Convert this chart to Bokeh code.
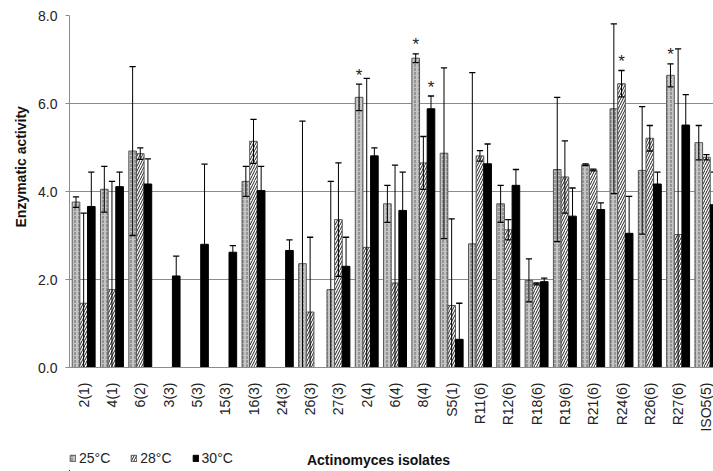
import math
from bokeh.plotting import figure
from bokeh.layouts import column
from bokeh.models import (ColumnDataSource, Range1d, FixedTicker, NumeralTickFormatter,
                          Legend, LegendItem, Label, Title)
from bokeh.core.properties import value
from bokeh.embed import file_html
from bokeh.resources import INLINE

nan = float("nan")

isolates = ["2(1)", "4(1)", "6(2)", "3(3)", "5(3)", "15(3)", "16(3)", "24(3)", "26(3)", "27(3)",
            "2(4)", "6(4)", "8(4)", "S5(1)", "R11(6)", "R12(6)", "R18(6)", "R19(6)", "R21(6)",
            "R24(6)", "R26(6)", "R27(6)", "ISO5(5)"]
series_names = ["25°C", "28°C", "30°C"]

act_25 = [3.76, 4.05, 4.92, nan, nan, nan, 4.23, nan, 2.36, 1.77, 6.14, 3.72, 7.03, 4.87,
          2.81, 3.72, 1.98, 4.50, 4.61, 5.88, 4.48, 6.64, 5.11]
err_25 = [0.12, 0.52, 1.92, nan, nan, nan, 0.34, nan, 3.24, 2.46, 0.30, 0.42, 0.10, 1.94,
          3.89, 0.42, 0.49, 1.64, 0.02, 1.93, 1.45, 0.26, 0.39]
act_28 = [1.46, 1.77, 4.86, nan, nan, nan, 5.14, nan, 1.26, 3.36, 2.73, 1.92, 4.65, 1.41,
          4.81, 3.13, 1.90, 4.33, 4.49, 6.45, 5.21, 3.02, 4.78]
err_28 = [2.05, 2.46, 0.13, nan, nan, nan, 0.50, nan, 1.70, 1.29, 3.84, 2.68, 0.60, 1.97,
          0.12, 0.23, 0.02, 0.82, 0.02, 0.30, 0.29, 4.22, 0.06]
act_30 = [3.66, 4.11, 4.17, 2.08, 2.80, 2.62, 4.02, 2.66, nan, 2.30, 4.81, 3.57, 5.88, 0.64,
          4.63, 4.14, 1.95, 3.44, 3.59, 3.05, 4.17, 5.51, 3.70]
err_30 = [0.78, 0.33, 0.57, 0.45, 1.82, 0.15, 0.55, 0.24, nan, 0.66, 0.18, 0.87, 0.29, 0.82,
          0.45, 0.36, 0.08, 0.64, 0.15, 0.84, 0.27, 0.69, 0.74]

stars = [("2(4)", "25°C"), ("8(4)", "25°C"), ("8(4)", "30°C"), ("R24(6)", "28°C"), ("R27(6)", "25°C")]

y_ticks = [0, 2, 4, 6, 8]
y_title = "Enzymatic activity"
x_title = "Actinomyces  isolates"

FONT = "Liberation Sans"
BAR_W = 0.27
offsets = [-0.27, 0.0, 0.27]
styles = [
    dict(fill_color="#c4c4c4", line_color="#555555", hatch_pattern=":", hatch_color="#666666",
         hatch_scale=4, hatch_weight=1),
    dict(fill_color="#ffffff", line_color="#555555", hatch_pattern="/", hatch_color="#222222",
         hatch_scale=5, hatch_weight=1),
    dict(fill_color="#000000", line_color="#000000"),
]

p = figure(width=713, height=440, output_backend="svg", toolbar_location=None,
           x_range=Range1d(0, 22.75), y_range=Range1d(0, 8),
           min_border_left=69, min_border_right=0, min_border_top=15, min_border_bottom=73)
p.outline_line_color = None
p.background_fill_color = "white"

all_vals = [act_25, act_28, act_30]
all_errs = [err_25, err_28, err_30]
for k, name in enumerate(series_names):
    xs, tops, lo, hi, cl, cr = [], [], [], [], [], []
    for i, v in enumerate(all_vals[k]):
        if math.isnan(v):
            continue
        x = i + 0.5 + offsets[k]
        xs.append(x)
        tops.append(v)
        e = all_errs[k][i]
        lo.append(max(v - e, -1))
        hi.append(v + e)
        cl.append(x - 0.11)
        cr.append(x + 0.11)
    src = ColumnDataSource(dict(x=xs, top=tops, lo=lo, hi=hi, cl=cl, cr=cr))
    p.vbar(x="x", top="top", bottom=0, width=BAR_W, source=src, line_width=1, **styles[k])
    p.segment(x0="x", y0="lo", x1="x", y1="hi", source=src, line_color="black", line_width=1)
    p.segment(x0="cl", y0="hi", x1="cr", y1="hi", source=src, line_color="black", line_width=1.3)
    p.segment(x0="cl", y0="lo", x1="cr", y1="lo", source=src, line_color="black", line_width=1.3)

sx, sy = [], []
for iso, ser in stars:
    i = isolates.index(iso)
    k = series_names.index(ser)
    sx.append(i + 0.5 + offsets[k])
    sy.append(all_vals[k][i] + all_errs[k][i])
p.text(x=sx, y=sy, text=["*"] * len(sx), text_align="center", text_baseline="middle",
       y_offset=-9, text_font=value(FONT), text_font_size="17px", text_color="#222222")

# axes
p.xaxis.ticker = FixedTicker(ticks=[i + 0.5 for i in range(len(isolates))])
p.xaxis.major_label_overrides = {i + 0.5: lab for i, lab in enumerate(isolates)}
p.xaxis.major_label_orientation = math.pi / 2
p.xaxis.major_tick_line_color = None
p.xaxis.minor_tick_line_color = None
p.xaxis.major_label_standoff = 9
p.xaxis.axis_line_color = "#8c8c8c"
p.xaxis.major_label_text_font = FONT
p.xaxis.major_label_text_font_size = "14px"
p.xaxis.major_label_text_color = "#222222"
p.xgrid.visible = False

p.yaxis.ticker = FixedTicker(ticks=y_ticks)
p.yaxis.formatter = NumeralTickFormatter(format="0.0")
p.yaxis.major_tick_in = 0
p.yaxis.major_tick_out = 4
p.yaxis.major_tick_line_color = "#8c8c8c"
p.yaxis.minor_tick_line_color = None
p.yaxis.axis_line_color = "#8c8c8c"
p.yaxis.major_label_standoff = 8
p.yaxis.major_label_text_font = FONT
p.yaxis.major_label_text_font_size = "14px"
p.yaxis.major_label_text_color = "#222222"
p.ygrid.grid_line_color = "#8c8c8c"
p.ygrid.grid_line_width = 1

p.add_layout(Title(text=y_title, align="left", offset=140, standoff=14, text_font=FONT,
                   text_font_size="14px", text_font_style="bold", text_color="#111111"), "left")

# bottom strip with legend and x-axis title (its frame is aligned with the main frame,
# so the x range is expressed in page pixels)
s = figure(width=713, height=31, output_backend="svg", toolbar_location=None,
           x_range=Range1d(69, 713), y_range=Range1d(0, 31),
           min_border=0, x_axis_type=None, y_axis_type=None)
s.outline_line_color = None
s.grid.visible = False
proxies = []
for k, name in enumerate(series_names):
    # legend proxies: one bar placed outside the visible range
    proxies.append(s.vbar(x=[-1000], top=[1], width=1, line_width=1, **styles[k]))
legend = Legend(items=[LegendItem(label=n, renderers=[r]) for n, r in zip(series_names, proxies)],
                location=(0, 5), orientation="horizontal", glyph_width=7, glyph_height=8,
                label_standoff=3, spacing=20, padding=0, margin=0, label_height=16,
                border_line_color=None, background_fill_alpha=0,
                label_text_font=FONT, label_text_font_size="14px", label_text_color="#222222")
s.add_layout(legend)
s.add_layout(Label(x=380, y=12, text=x_title, text_align="center", text_baseline="middle",
                   text_font=FONT, text_font_size="14px", text_font_style="bold",
                   text_color="#111111"))

layout = column(p, s, spacing=0)
open("out.html", "w").write(file_html(layout, INLINE))
